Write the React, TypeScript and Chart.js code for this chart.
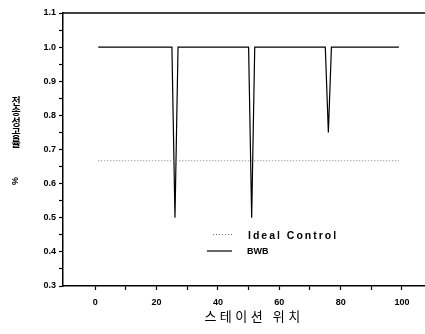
import React, { useEffect, useRef } from 'react';
import { Chart, registerables } from 'chart.js';

Chart.register(...registerables);

// ---- data ----
const bwbX = [1, 25, 26, 27, 50, 51, 52, 75, 76, 77, 99];
const bwbY = [1.0, 1.0, 0.5, 1.0, 1.0, 0.5, 1.0, 1.0, 0.75, 1.0, 1.0];
const idealX = [1, 99];
const idealY = [0.667, 0.667];
const xTickValues = [0, 10, 20, 30, 40, 50, 60, 70, 80, 90, 100];
const xTickLabels = ['0', '', '20', '', '40', '', '60', '', '80', '', '100'];
const yTickValues = [0.3, 0.35, 0.4, 0.45, 0.5, 0.55, 0.6, 0.65, 0.7, 0.75, 0.8, 0.85, 0.9, 0.95, 1.0, 1.05, 1.1];
const yTickLabels = ['0.3', '', '0.4', '', '0.5', '', '0.6', '', '0.7', '', '0.8', '', '0.9', '', '1.0', '', '1.1'];
const seriesLabels = ['Ideal Control', 'BWB'];
const xTitle = '스테이션 위치';
const yTitleChars = ['전', '송', '성', '공', '률'];
const yTitlePct = '%';

const LATIN = '"Liberation Sans", Arial, sans-serif';
const KR = '"Noto Sans CJK KR", sans-serif';

const decor = {
  id: 'decor',
  afterDraw(chart: any) {
    const ctx = chart.ctx as CanvasRenderingContext2D;
    const { left, right, top } = chart.chartArea;
    ctx.save();
    // top frame
    ctx.strokeStyle = '#000';
    ctx.lineWidth = 1.5;
    ctx.beginPath();
    ctx.moveTo(left, top);
    ctx.lineTo(right, top);
    ctx.stroke();

    // legend
    const ds = chart.data.datasets;
    ctx.lineWidth = 1;
    ctx.strokeStyle = ds[0].borderColor;
    ctx.setLineDash([1, 2]);
    ctx.beginPath();
    ctx.moveTo(213, 234.5);
    ctx.lineTo(232, 234.5);
    ctx.stroke();
    ctx.setLineDash([]);
    ctx.strokeStyle = ds[1].borderColor;
    ctx.lineWidth = 1.2;
    ctx.beginPath();
    ctx.moveTo(207, 251);
    ctx.lineTo(232, 251);
    ctx.stroke();

    ctx.fillStyle = '#000';
    ctx.textAlign = 'left';
    ctx.textBaseline = 'alphabetic';
    ctx.font = `bold 10.5px ${LATIN}`;
    (ctx as any).letterSpacing = '2px';
    ctx.fillText(ds[0].label, 248, 239);
    (ctx as any).letterSpacing = '0px';
    ctx.font = `bold 9px ${LATIN}`;
    ctx.fillText(ds[1].label, 247, 254);

    // x title
    ctx.font = `13px ${KR}`;
    (ctx as any).letterSpacing = '3.5px';
    ctx.textAlign = 'center';
    ctx.textBaseline = 'middle';
    ctx.fillText(xTitle, 254, 316);
    (ctx as any).letterSpacing = '0px';

    // y title stacked
    ctx.font = `bold 10px ${KR}`;
    yTitleChars.forEach((c, i) => {
      ctx.fillText(c, 16, 101 + i * 10.6);
    });
    ctx.save();
    ctx.translate(16, 181);
    ctx.rotate(-Math.PI / 2);
    ctx.font = `bold 9px ${LATIN}`;
    ctx.fillText(yTitlePct, 0, 0);
    ctx.restore();

    ctx.restore();
  },
};

export default function App() {
  const ref = useRef<HTMLCanvasElement>(null);
  useEffect(() => {
    if (!ref.current) return;
    const chart = new Chart(ref.current, {
      type: 'line',
      data: {
        datasets: [
          {
            label: seriesLabels[0],
            data: idealX.map((x, i) => ({ x, y: idealY[i] })),
            borderColor: '#777777',
            borderWidth: 1,
            borderDash: [1, 2],
            pointRadius: 0,
            fill: false,
          },
          {
            label: seriesLabels[1],
            data: bwbX.map((x, i) => ({ x, y: bwbY[i] })),
            borderColor: '#000000',
            borderWidth: 1.2,
            pointRadius: 0,
            fill: false,
          },
        ],
      },
      options: {
        responsive: false,
        animation: false,
        layout: { padding: { top: 13, left: 0, right: 0, bottom: 0 } },
        plugins: { legend: { display: false }, tooltip: { enabled: false } },
        scales: {
          x: {
            type: 'linear',
            min: -10.5,
            max: 107.5,
            afterBuildTicks: (s: any) => {
              s.ticks = xTickValues.map((v) => ({ value: v }));
            },
            afterFit: (s: any) => {
              s.height = 48;
            },
            grid: { drawOnChartArea: false, drawTicks: true, tickLength: 4, color: '#000', tickWidth: 1.2 },
            border: { display: true, color: '#000', width: 1.5 },
            ticks: {
              autoSkip: false,
              maxRotation: 0,
              padding: 7,
              color: '#000',
              font: { family: LATIN, size: 9, weight: 'bold' },
              callback: (_v: any, i: number) => xTickLabels[i],
            },
          },
          y: {
            type: 'linear',
            min: 0.3,
            max: 1.1,
            afterBuildTicks: (s: any) => {
              s.ticks = yTickValues.map((v) => ({ value: v }));
            },
            afterFit: (s: any) => {
              s.width = 63;
            },
            grid: { drawOnChartArea: false, drawTicks: true, tickLength: 4, color: '#000', tickWidth: 1.2 },
            border: { display: true, color: '#000', width: 1.5 },
            ticks: {
              autoSkip: false,
              padding: 3,
              color: '#000',
              font: { family: LATIN, size: 9, weight: 'bold' },
              callback: (_v: any, i: number) => yTickLabels[i],
            },
          },
        },
      },
      plugins: [decor],
    } as any);
    return () => chart.destroy();
  }, []);
  return (
    <div style={{ position: 'fixed', left: 0, top: 0, width: 425, height: 334, background: '#fff' }}>
      <canvas ref={ref} width={425} height={334} style={{ display: 'block' }} />
    </div>
  );
}
